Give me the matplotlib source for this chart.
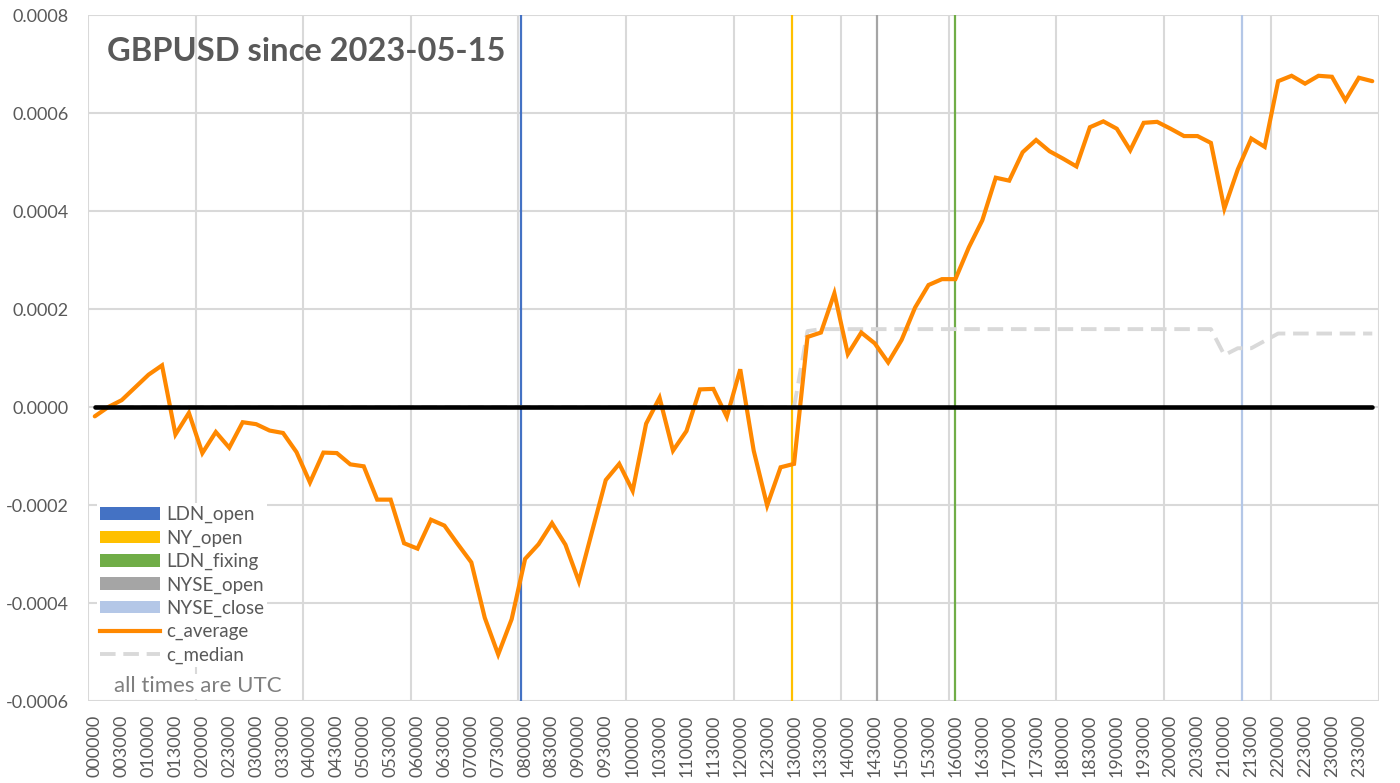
import matplotlib
matplotlib.use("Agg")
import matplotlib.pyplot as plt
import numpy as np
from matplotlib.patches import Patch
from matplotlib.lines import Line2D

# 15 minute buckets over the day, labelled HHMMSS
times = ["%02d%02d00" % (h, m) for h in range(24) for m in (0, 15, 30, 45)]

# average change, in units of 1e-4
c_average = [-0.19, 0.00, 0.14, 0.40, 0.66, 0.85, -0.56, -0.12, -0.94, -0.51,
             -0.83, -0.31, -0.35, -0.48, -0.53, -0.92, -1.54, -0.93, -0.94, -1.17,
             -1.21, -1.89, -1.89, -2.78, -2.89, -2.30, -2.42, -2.80, -3.17, -4.30,
             -5.05, -4.33, -3.10, -2.80, -2.37, -2.81, -3.56, -2.52, -1.49, -1.16,
             -1.71, -0.34, 0.19, -0.89, -0.49, 0.36, 0.37, -0.20, 0.77, -0.89,
             -2.01, -1.23, -1.16, 1.43, 1.52, 2.32, 1.08, 1.52, 1.30, 0.91,
             1.37, 2.03, 2.49, 2.61, 2.61, 3.26, 3.81, 4.68, 4.62, 5.20,
             5.45, 5.22, 5.07, 4.91, 5.71, 5.83, 5.68, 5.24, 5.80, 5.82,
             5.68, 5.53, 5.53, 5.39, 4.05, 4.85, 5.48, 5.31, 6.65, 6.76,
             6.60, 6.76, 6.74, 6.26, 6.72, 6.65]

# median change, in units of 1e-4
c_median = [0.00, 0.00, 0.00, 0.00, 0.00, 0.00, 0.00, 0.00, 0.00, 0.00,
            0.00, 0.00, 0.00, 0.00, 0.00, 0.00, 0.00, 0.00, 0.00, 0.00,
            0.00, 0.00, 0.00, 0.00, 0.00, 0.00, 0.00, 0.00, 0.00, 0.00,
            0.00, 0.00, 0.00, 0.00, 0.00, 0.00, 0.00, 0.00, 0.00, 0.00,
            0.00, 0.00, 0.00, 0.00, 0.00, 0.00, 0.00, 0.00, 0.00, 0.00,
            0.00, 0.00, 0.00, 1.55, 1.59, 1.59, 1.59, 1.59, 1.59, 1.59,
            1.59, 1.59, 1.59, 1.59, 1.59, 1.59, 1.59, 1.59, 1.59, 1.59,
            1.59, 1.59, 1.59, 1.59, 1.59, 1.59, 1.59, 1.59, 1.59, 1.59,
            1.59, 1.59, 1.59, 1.59, 1.06, 1.20, 1.20, 1.35, 1.50, 1.50,
            1.50, 1.50, 1.50, 1.50, 1.50, 1.50]

event_names = ["LDN_open", "NY_open", "LDN_fixing", "NYSE_open", "NYSE_close"]
event_times = ["080000", "130000", "160000", "143000", "211500"]
event_colors = ["#4472C4", "#FFC000", "#70AD47", "#A5A5A5", "#B4C7E7"]

text_col = "#595959"
grid_col = "#D9D9D9"
plt.rcParams["font.family"] = ["Lato", "DejaVu Sans"]

x = np.arange(len(times))
avg = np.array(c_average) * 1e-4
med = np.array(c_median) * 1e-4

fig = plt.figure(figsize=(14, 7.83), dpi=100)
ax = fig.add_axes([0.0629, 0.1047, 0.9221, 0.8761])

# event markers, clustered like excel columns within their category
offsets = [-0.3, -0.15, 0.0, 0.15, 0.3]
for name, t, col, off in zip(event_names, event_times, event_colors, offsets):
    ax.axvline(times.index(t) + off, color=col, lw=1.6, zorder=2)

ax.plot(x, med, color="#D9D9D9", lw=2.8, dashes=(4, 2.0), zorder=3)
ax.plot(x, avg, color="#FF8800", lw=3.0, solid_joinstyle="miter", solid_capstyle="round", zorder=4)
ax.plot(x, np.zeros(len(x)), color="black", lw=3.3, solid_capstyle="round", zorder=5)

ax.set_xlim(-0.5, len(times) - 0.5)
ax.set_ylim(-0.0006, 0.0008)
ax.set_yticks(np.arange(-0.0006, 0.00081, 0.0002))
ax.yaxis.set_major_formatter(plt.FuncFormatter(lambda v, p: "%.4f" % (0.0 if abs(v) < 1e-12 else v)))
ax.set_xticks(x[::2])
ax.set_xticklabels(times[::2], rotation=90)
ax.set_xticks(np.arange(-0.5, len(times), 8), minor=True)

ax.grid(axis="y", color=grid_col, lw=1.5, zorder=0)
ax.grid(axis="x", which="minor", color=grid_col, lw=1.5, zorder=0)
ax.tick_params(axis="both", which="both", length=0, colors=text_col, labelsize=13)
ax.tick_params(axis="y", pad=14)
ax.tick_params(axis="x", pad=10)
for s in ax.spines.values():
    s.set_visible(False)
ax.set_axisbelow(True)

ax.text(0.0147, 0.968, "GBPUSD since 2023-05-15", transform=ax.transAxes, fontsize=23.5,
        fontweight="bold", color=text_col, va="top", ha="left")

handles = [Patch(facecolor=c, edgecolor="none") for c in event_colors]
handles.append(Line2D([0], [0], color="#FF8800", lw=3.0))
handles.append(Line2D([0], [0], color="#D9D9D9", lw=2.8, dashes=(4, 2.0)))
leg = ax.legend(handles, event_names + ["c_average", "c_median"], loc="lower left",
                bbox_to_anchor=(0.007, 0.05), frameon=True, fancybox=False, framealpha=1,
                edgecolor="none", fontsize=13.5, handlelength=3.2, handleheight=0.65,
                handletextpad=0.35, labelspacing=0.33, borderpad=0.15, borderaxespad=0.0)
for t in leg.get_texts():
    t.set_color(text_col)
leg.set_zorder(6)

ax.text(0.02, 0.007, "all times are UTC", transform=ax.transAxes, fontsize=16,
        color="#7F7F7F", va="bottom", ha="left", zorder=6,
        bbox=dict(facecolor="white", edgecolor="none", pad=2))

fig.savefig("out.png", dpi=100)
